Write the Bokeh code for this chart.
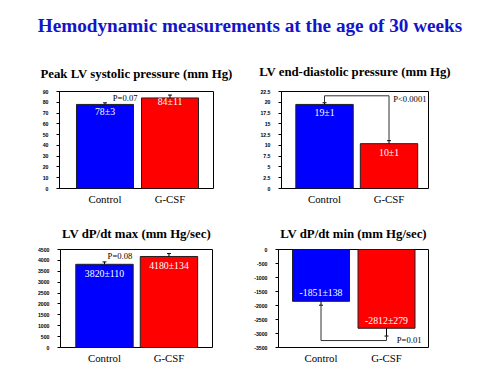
from bokeh.plotting import figure
from bokeh.models import Range1d, FixedTicker, Div, ColumnDataSource
from bokeh.layouts import column, row
from bokeh.embed import file_html
from bokeh.resources import INLINE
from bokeh.core.properties import value

main_title = "Hemodynamic measurements at the age of 30 weeks"
categories = ["Control", "G-CSF"]
bar_colors = ["#0000ff", "#ff0000"]

# Panel 1: Peak LV systolic pressure
p1_title = "Peak LV systolic pressure (mm Hg)"
p1_values = [78, 84]
p1_errors = [1.5, 2.7]
p1_labels = ["78±3", "84±11"]
p1_ticks = [0, 10, 20, 30, 40, 50, 60, 70, 80, 90]
p1_tick_labels = ["0", "10", "20", "30", "40", "50", "60", "70", "80", "90"]
p1_p = "P=0.07"

# Panel 2: LV end-diastolic pressure
p2_title = "LV end-diastolic pressure (mm Hg)"
p2_values = [19.5, 10.4]
p2_errors = [0.4, 0.7]
p2_labels = ["19±1", "10±1"]
p2_ticks = [0, 2.5, 5, 7.5, 10, 12.5, 15, 17.5, 20, 22.5]
p2_tick_labels = ["0", "2.5", "5", "7.5", "10", "12.5", "15", "17.5", "20", "22.5"]
p2_p = "P<0.0001"
p2_bracket = 21.5

# Panel 3: LV dP/dt max
p3_title = "LV dP/dt max (mm Hg/sec)"
p3_values = [3820, 4180]
p3_errors = [110, 134]
p3_labels = ["3820±110", "4180±134"]
p3_ticks = [0, 500, 1000, 1500, 2000, 2500, 3000, 3500, 4000, 4500]
p3_tick_labels = ["0", "500", "1000", "1500", "2000", "2500", "3000", "3500", "4000", "4500"]
p3_p = "P=0.08"

# Panel 4: LV dP/dt min
p4_title = "LV dP/dt min (mm Hg/sec)"
p4_values = [-1851, -2812]
p4_errors = [138, 279]
p4_labels = ["-1851±138", "-2812±279"]
p4_ticks = [0, -500, -1000, -1500, -2000, -2500, -3000, -3500]
p4_tick_labels = ["0", "-500", "-1000", "-1500", "-2000", "-2500", "-3000", "-3500"]
p4_p = "P=0.01"
p4_bracket = -3252

SERIF = "Liberation Serif"
SANS = "Liberation Sans"
xpos = [1, 2]


def panel(title, vals, errs, labels, ticks, tlabels, yr, xr, bw, geom, label_off, standoff):
    w, h, bl, br, bt, bb = geom
    p = figure(width=w, height=h, output_backend="svg", toolbar_location=None,
               x_range=Range1d(*xr), y_range=Range1d(*yr), title=title,
               margin=(0, 0, 0, 0))
    p.min_border_left = bl
    p.min_border_right = br
    p.min_border_top = bt
    p.min_border_bottom = bb
    p.title.text_font = SERIF
    p.title.text_font_size = "12.8px"
    p.title.text_font_style = "bold"
    p.title.text_color = "#000000"
    p.title.align = "center"
    p.title.standoff = standoff
    p.grid.visible = False
    p.outline_line_color = "black"
    p.outline_line_width = 1
    p.background_fill_color = "white"
    p.border_fill_color = "white"

    p.xaxis.ticker = FixedTicker(ticks=xpos)
    p.xaxis.major_label_overrides = {xpos[i]: categories[i] for i in range(2)}
    p.xaxis.major_label_text_font = SERIF
    p.xaxis.major_label_text_font_size = "10.8px"
    p.xaxis.major_label_text_color = "black"
    p.xaxis.axis_line_color = None
    p.xaxis.major_tick_line_color = None
    p.xaxis.major_tick_in = 0
    p.xaxis.major_tick_out = 0
    p.xaxis.minor_tick_line_color = None
    p.xaxis.minor_tick_out = 0
    p.xaxis.major_label_standoff = 4

    p.yaxis.ticker = FixedTicker(ticks=ticks)
    p.yaxis.major_label_overrides = {ticks[i]: tlabels[i] for i in range(len(ticks))}
    p.yaxis.major_label_text_font = SANS
    p.yaxis.major_label_text_font_size = "5.2px"
    p.yaxis.major_label_text_font_style = "bold"
    p.yaxis.major_label_text_color = "black"
    p.yaxis.axis_line_color = "black"
    p.yaxis.major_tick_in = 0
    p.yaxis.major_tick_out = 3
    p.yaxis.minor_tick_line_color = None
    p.yaxis.major_label_standoff = 8

    src = ColumnDataSource(dict(x=xpos, top=vals, color=bar_colors, label=labels,
                                off=label_off))
    p.vbar(x="x", top="top", bottom=0, width=bw, fill_color="color",
           line_color="#202020", line_width=1, source=src)

    sign = [1 if v >= 0 else -1 for v in vals]
    ends = [vals[i] + sign[i] * errs[i] for i in range(2)]
    p.segment(x0=xpos, y0=vals, x1=xpos, y1=ends, line_color="black", line_width=1)
    p.segment(x0=[x - 0.03 for x in xpos], y0=ends, x1=[x + 0.03 for x in xpos],
              y1=ends, line_color="black", line_width=1)

    p.text(x="x", y="top", text="label", source=src, text_color="white",
           text_font=value(SERIF), text_font_size="9.8px", text_align="center",
           text_baseline="middle", y_offset="off")
    return p, ends


def ptext(p, x, y, txt, xo, yo):
    p.text(x=[x], y=[y], text=[txt], text_color="black", text_font=value(SERIF),
           text_font_size="8.6px", text_align="right", text_baseline="middle",
           x_offset=xo, y_offset=yo)


p1, e1 = panel(p1_title, p1_values, p1_errors, p1_labels, p1_ticks, p1_tick_labels,
               (0, 90), (0.30, 2.669), 0.877, (242, 160, 51, 37, 37, 22), [7.5, 4], 22)
ptext(p1, 2 - 0.877 / 2, p1_values[1], p1_p, -4, 0)

p2, e2 = panel(p2_title, p2_values, p2_errors, p2_labels, p2_ticks, p2_tick_labels,
               (0, 22.5), (0.333, 2.612), 0.89, (242, 160, 31, 64, 40, 19), [8.4, 8.4], 25)
p2.line(x=[xpos[0], xpos[0], xpos[1], xpos[1]], y=[e2[0], p2_bracket, p2_bracket, e2[1]],
        line_color="#303030", line_width=1)
ptext(p2, 2.612, p2_bracket, p2_p, -2, 3)

p3, e3 = panel(p3_title, p3_values, p3_errors, p3_labels, p3_ticks, p3_tick_labels,
               (0, 4500), (0.318, 2.675), 0.89, (242, 157, 52, 38, 39, 18), [9.5, 9], 18)
ptext(p3, 2 - 0.89 / 2, p3_values[1], p3_p, -8, 0)

p4, e4 = panel(p4_title, p4_values, p4_errors, p4_labels, p4_ticks, p4_tick_labels,
               (-3500, 0), (0.351, 2.641), 0.87, (242, 157, 28, 64, 38, 20), [-9, -7.7], 18)
p4.line(x=[xpos[0], xpos[0], xpos[1], xpos[1]], y=[e4[0], p4_bracket, p4_bracket, e4[1]],
        line_color="#303030", line_width=1)
ptext(p4, 2.641, p4_bracket, p4_p, -7, -1)

header = Div(text=('<div style="text-align:center;font-family:\'Liberation Serif\';'
                   'font-weight:bold;font-size:19.2px;color:#1414c8;padding-top:4px;'
                   'width:484px">' + main_title + '</div>'),
             width=484, height=42, margin=(0, 0, 0, 0))

layout = column(header, row(p1, p2), row(p3, p4), margin=(8, 8, 8, 8))
open("out.html", "w").write(file_html(layout, INLINE))
